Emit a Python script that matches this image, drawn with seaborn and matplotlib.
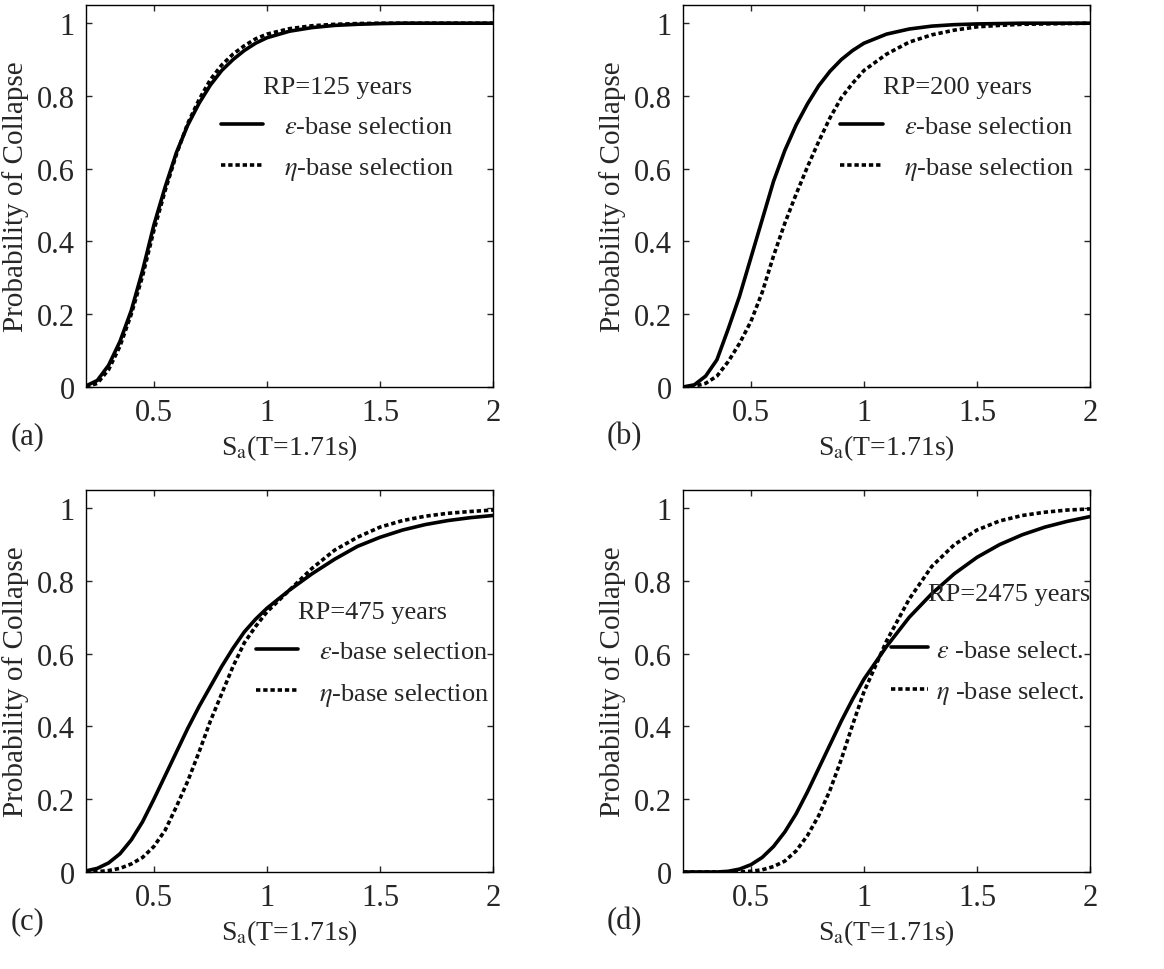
import pandas as pd
import matplotlib
matplotlib.use('Agg')
import matplotlib.pyplot as plt
import seaborn as sns

# Valeurs (Sa en g, probabilité d'effondrement)
sa = [0.2, 0.25, 0.3, 0.35, 0.4, 0.45, 0.5, 0.55, 0.6, 0.65, 0.7, 0.75, 0.8, 0.85,
      0.9, 0.95, 1.0, 1.1, 1.2, 1.3, 1.4, 1.5, 1.6, 1.7, 1.8, 1.9, 2.0]

a_eps = [0.003, 0.018, 0.06, 0.125, 0.21, 0.32, 0.445, 0.55, 0.645, 0.72, 0.78, 0.83, 0.87, 0.9,
         0.925, 0.945, 0.96, 0.978, 0.988, 0.994, 0.997, 0.999, 1, 1, 1, 1, 1]
a_eta = [0.0, 0.01, 0.048, 0.112, 0.2, 0.305, 0.43, 0.54, 0.64, 0.725, 0.79, 0.845, 0.885, 0.915,
         0.938, 0.957, 0.97, 0.985, 0.993, 0.997, 0.999, 1, 1, 1, 1, 1, 1]
b_eps = [0.0, 0.006, 0.03, 0.075, 0.16, 0.25, 0.355, 0.46, 0.565, 0.65, 0.72, 0.778, 0.828, 0.868,
         0.9, 0.925, 0.945, 0.97, 0.984, 0.992, 0.996, 0.998, 0.999, 1, 1, 1, 1]
b_eta = [0, 0.002, 0.01, 0.03, 0.07, 0.12, 0.18, 0.26, 0.36, 0.45, 0.53, 0.605, 0.675, 0.74,
         0.795, 0.835, 0.87, 0.915, 0.948, 0.968, 0.981, 0.99, 0.994, 0.997, 0.998, 0.999, 1.0]
c_eps = [0.003, 0.01, 0.025, 0.05, 0.088, 0.138, 0.2, 0.265, 0.33, 0.395, 0.455, 0.51, 0.565, 0.615,
         0.66, 0.695, 0.725, 0.775, 0.82, 0.86, 0.895, 0.92, 0.94, 0.955, 0.966, 0.974, 0.98]
c_eta = [0, 0.001, 0.004, 0.01, 0.022, 0.04, 0.07, 0.115, 0.18, 0.25, 0.33, 0.415, 0.49, 0.565,
         0.63, 0.675, 0.715, 0.775, 0.835, 0.885, 0.92, 0.948, 0.966, 0.978, 0.986, 0.991, 0.995]
d_eps = [0, 0, 0, 0, 0.002, 0.008, 0.02, 0.04, 0.07, 0.11, 0.16, 0.22, 0.285, 0.35,
         0.415, 0.475, 0.53, 0.62, 0.7, 0.765, 0.82, 0.865, 0.9, 0.927, 0.948, 0.964, 0.977]
d_eta = [0, 0, 0, 0, 0, 0, 0.002, 0.006, 0.015, 0.03, 0.058, 0.1, 0.155, 0.225,
         0.31, 0.405, 0.495, 0.635, 0.75, 0.84, 0.9, 0.94, 0.965, 0.98, 0.989, 0.995, 0.998]

titles = ['RP=125 years', 'RP=200 years', 'RP=475 years', 'RP=2475 years']
panel_tags = ['(a)', '(b)', '(c)', '(d)']
labels_full = [r'$\varepsilon$-base selection', r'$\eta$-base selection']
labels_short = [r'$\varepsilon$ -base select.', r'$\eta$ -base select.']

sns.set_style('ticks')
plt.rcParams['font.family'] = ['Liberation Serif', 'DejaVu Serif']
plt.rcParams['mathtext.fontset'] = 'stix'

fig = plt.figure(figsize=(11.64, 9.70), dpi=100)
w, h = 0.3497, 0.3938
positions = [(0.0739, 0.6), (0.5868, 0.6), (0.0739, 0.1), (0.5868, 0.1)]
series = [(a_eps, a_eta), (b_eps, b_eta), (c_eps, c_eta), (d_eps, d_eta)]
leg_anchor = [(0.905, 0.815), (0.96, 0.815), (0.99, 0.71), (0.985, 0.612)]

for i in range(4):
    ax = fig.add_axes([positions[i][0], positions[i][1], w, h])
    eps, eta = series[i]
    labs = labels_short if i == 3 else labels_full
    sns.lineplot(x=sa, y=eps, ax=ax, color='black', linewidth=2.6, label=labs[0])
    sns.lineplot(x=sa, y=eta, ax=ax, color='black', linewidth=2.6,
                 linestyle=(0, (1.2, 0.8)), label=labs[1])
    ax.set_xlim(0.2, 2.0)
    ax.set_ylim(0, 1.05)
    ax.set_xticks([0.5, 1, 1.5, 2])
    ax.set_xticklabels(['0.5', '1', '1.5', '2'])
    ax.set_yticks([0, 0.2, 0.4, 0.6, 0.8, 1])
    ax.set_yticklabels(['0', '0.2', '0.4', '0.6', '0.8', '1'])
    ax.tick_params(direction='in', top=True, right=True, length=4, width=1,
                   labelsize=22, pad=8)
    for s in ax.spines.values():
        s.set_linewidth(1.0)
        s.set_color('black')
    ax.set_xlabel(r'S$_{\mathrm{a}}$(T=1.71s)', fontsize=20, labelpad=4)
    ax.set_ylabel('Probability of Collapse', fontsize=21, labelpad=6)
    if i == 3:
        # le titre du dernier panneau est placé à part, collé à l'axe droit
        ax.legend(loc='upper right', bbox_to_anchor=leg_anchor[i],
                  frameon=False, fontsize=19, handlelength=1.4, handletextpad=0.3,
                  borderpad=0, borderaxespad=0, labelspacing=0.65)
        ax.text(1.0, 0.728, titles[i], transform=ax.transAxes, fontsize=19,
                ha='right', va='center')
    else:
        ax.legend(title=titles[i], loc='upper right', bbox_to_anchor=leg_anchor[i],
                  frameon=False, fontsize=19, title_fontsize=19,
                  handlelength=1.6, handletextpad=0.8, borderpad=0, borderaxespad=0,
                  labelspacing=0.65)
    fig.text(positions[i][0] - 0.05, positions[i][1] - 0.05, panel_tags[i],
             fontsize=22, ha='center', va='center')

plt.savefig('out.png', dpi=100)
